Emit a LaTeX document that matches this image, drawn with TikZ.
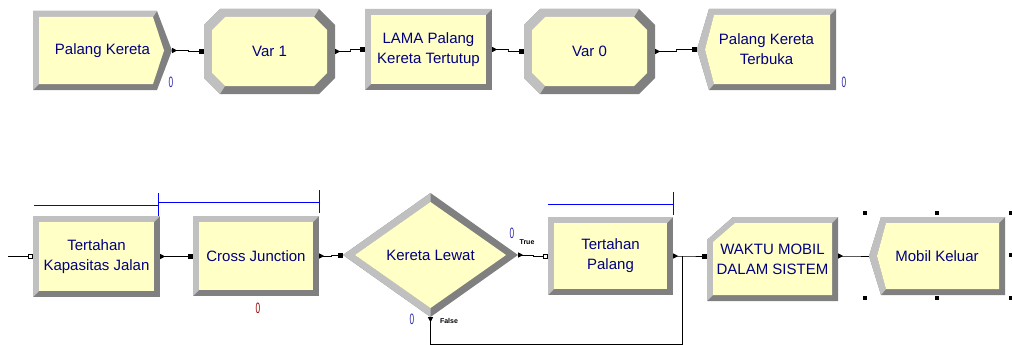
\documentclass[tikz,border=0pt]{standalone}
\usepackage{fontspec}
\setmainfont{Liberation Sans}
\usepackage{tikz}
\usetikzlibrary{arrows.meta,calc,backgrounds}
\definecolor{modfill}{RGB}{255,255,198}
\definecolor{rimlight}{RGB}{192,192,192}
\definecolor{rimdark}{RGB}{128,128,128}
\definecolor{navy}{RGB}{0,0,128}
\definecolor{cntblue}{RGB}{40,40,170}
\definecolor{cntred}{RGB}{160,0,0}
\definecolor{qblue}{RGB}{0,0,255}
\tikzset{font={\fontsize{15pt}{20pt}\selectfont}}
\newcommand{\cnt}[1]{\scalebox{.55}[1]{#1}}

% module outlines round a named node (#1 = node, #2 = width, #3 = height)
\newcommand{\procshape}[3]{\begin{scope}[shift={(#1.center)},x=1pt,y=1pt]
\def\modw{#2/2}\def\modh{#3/2}
\fill[rimdark] (-\modw,-\modh) rectangle (\modw,\modh);
\fill[rimlight] (-\modw,-\modh) -- (-\modw,\modh) -- (\modw,\modh) -- (\modw-6,\modh-6) -- (-\modw+6,\modh-6) -- (-\modw+6,-\modh+6) -- cycle;
\fill[modfill] (-\modw+6,-\modh+6) rectangle (\modw-6,\modh-6);
\end{scope}}
\newcommand{\createshape}[3]{\begin{scope}[shift={(#1.center)},x=1pt,y=1pt]
\def\modw{#2/2}\def\modh{#3/2}
\fill[rimdark] (-\modw,\modh) -- (\modw-15,\modh) -- (\modw,0) -- (\modw-15,-\modh) -- (-\modw,-\modh) -- cycle;
\fill[rimlight] (-\modw,-\modh) -- (-\modw,\modh) -- (\modw-15,\modh) -- (\modw-19,\modh-6) -- (-\modw+6,\modh-6) -- (-\modw+6,-\modh+6) -- cycle;
\fill[modfill] (-\modw+6,\modh-6) -- (\modw-19,\modh-6) -- (\modw-8,0) -- (\modw-19,-\modh+6) -- (-\modw+6,-\modh+6) -- cycle;
\end{scope}}
\newcommand{\disposeshape}[3]{\begin{scope}[shift={(#1.center)},x=1pt,y=1pt]
\def\modw{#2/2}\def\modh{#3/2}
\fill[rimdark] (-\modw,0) -- (-\modw+12,\modh) -- (\modw,\modh) -- (\modw,-\modh) -- (-\modw+12,-\modh) -- cycle;
\fill[rimlight] (-\modw+12,-\modh) -- (-\modw,0) -- (-\modw+12,\modh) -- (\modw,\modh) -- (\modw-6,\modh-6) -- (-\modw+17,\modh-6) -- (-\modw+8,0) -- (-\modw+17,-\modh+6) -- cycle;
\fill[modfill] (-\modw+8,0) -- (-\modw+17,\modh-6) -- (\modw-6,\modh-6) -- (\modw-6,-\modh+6) -- (-\modw+17,-\modh+6) -- cycle;
\end{scope}}
\newcommand{\assignshape}[3]{\begin{scope}[shift={(#1.center)},x=1pt,y=1pt]
\def\modw{#2/2}\def\modh{#3/2}
\fill[rimdark] (-\modw+16,\modh) -- (\modw-16,\modh) -- (\modw,\modh-16) -- (\modw,-\modh+16) -- (\modw-16,-\modh) -- (-\modw+16,-\modh) -- (-\modw,-\modh+16) -- (-\modw,\modh-16) -- cycle;
\fill[rimlight] (-\modw+16,-\modh) -- (-\modw,-\modh+16) -- (-\modw,\modh-16) -- (-\modw+16,\modh) -- (\modw-16,\modh) -- (\modw-21,\modh-8) -- (-\modw+21,\modh-8) -- (-\modw+8,\modh-21) -- (-\modw+8,-\modh+21) -- (-\modw+21,-\modh+8) -- cycle;
\fill[modfill] (-\modw+21,\modh-8) -- (\modw-21,\modh-8) -- (\modw-8,\modh-21) -- (\modw-8,-\modh+21) -- (\modw-21,-\modh+8) -- (-\modw+21,-\modh+8) -- (-\modw+8,-\modh+21) -- (-\modw+8,\modh-21) -- cycle;
\end{scope}}
\newcommand{\recordshape}[3]{\begin{scope}[shift={(#1.center)},x=1pt,y=1pt]
\def\modw{#2/2}\def\modh{#3/2}
\fill[rimdark] (-\modw,\modh-23) -- (-\modw+26,\modh) -- (\modw,\modh) -- (\modw,-\modh) -- (-\modw,-\modh) -- cycle;
\fill[rimlight] (-\modw,-\modh) -- (-\modw,\modh-23) -- (-\modw+26,\modh) -- (\modw,\modh) -- (\modw-6,\modh-6) -- (-\modw+28,\modh-6) -- (-\modw+6,\modh-25) -- (-\modw+6,-\modh+6) -- cycle;
\fill[modfill] (-\modw+6,\modh-25) -- (-\modw+28,\modh-6) -- (\modw-6,\modh-6) -- (\modw-6,-\modh+6) -- (-\modw+6,-\modh+6) -- cycle;
\end{scope}}
\newcommand{\decideshape}[3]{\begin{scope}[shift={(#1.center)},x=1pt,y=1pt]
\def\modw{#2/2}\def\modh{#3/2}
\fill[rimdark] (-\modw,0) -- (0,\modh) -- (\modw,0) -- (0,-\modh) -- cycle;
\fill[rimlight] (0,\modh) -- (-\modw,0) -- (0,-\modh) -- (0,-\modh+9) -- (-\modw+12,0) -- (0,\modh-9) -- cycle;
\fill[modfill] (-\modw+12,0) -- (0,\modh-9) -- (\modw-12,0) -- (0,-\modh+9) -- cycle;
\end{scope}}

\begin{document}
\begin{tikzpicture}[x=1pt,y=-1pt,
module/.style 2 args={inner sep=1pt,text=navy,align=center,minimum width=#1,minimum height=#2},
conn/.style={line width=1pt,to path={-| ($(\tikztostart)!.5!(\tikztotarget)$) |- (\tikztotarget)}},
flow/.style={conn,{Triangle[reversed,length=5pt,width=5pt]}-{Square[length=5pt,width=5pt]}},
flowq/.style={conn,{Triangle[reversed,length=5pt,width=5pt]}-{Square[open,fill=white,length=5pt,width=5pt]}},
count/.style={inner sep=0pt,text=cntblue,font=\fontsize{15pt}{15pt}\selectfont},
branch/.style={inner sep=0pt,font=\fontsize{7pt}{7pt}\selectfont\bfseries},
queue/.style={qblue,line width=1pt}
]
\useasboundingbox (0,0) rectangle (1012,345);

\node[module={139}{79}] (pk) at (102.5,50.5) {Palang Kereta};
\node[module={131}{85}] (var1) at (269.5,51.5) {Var 1};
\node[module={127}{81}] (lama) at (428.5,49.5) {LAMA Palang\\Kereta Tertutup};
\node[module={131}{85}] (var0) at (589.5,51.5) {Var 0};
\node[module={139}{81}] (pkt) at (766.5,49.5) {Palang Kereta\\Terbuka};
\node[count] (pkc) at (171,82) {\cnt{0}};
\node[count] (pktc) at (844,82) {\cnt{0}};

\draw[flow] (pk.east) to (var1.west);
\draw[flow] (var1.east) to (lama.west);
\draw[flow] (lama.east) to (var0.west);
\draw[flow] (var0.east) to (pkt.west);

\node[module={127}{81}] (tkj) at (96.5,256.5) {Tertahan\\Kapasitas Jalan};
\node[module={126}{80}] (cj) at (256,256) {Cross Junction};
\node[module={175}{124}] (kl) at (430.5,255) {Kereta Lewat};
\node[module={125}{78}] (tp) at (610.5,256) {Tertahan\\Palang};
\node[module={131}{84}] (wms) at (772.5,259) {WAKTU MOBIL\\DALAM SISTEM};
\node[module={136}{78}] (mk) at (937,256) {Mobil Keluar};

\begin{scope}[on background layer]
\createshape{pk}{139}{79}
\assignshape{var1}{131}{85}
\procshape{lama}{127}{81}
\assignshape{var0}{131}{85}
\disposeshape{pkt}{139}{81}
\foreach \n/\w/\h in {tkj/127/81,cj/126/80,tp/125/78}
  \procshape{\n}{\w}{\h};
\decideshape{kl}{175}{124}
\recordshape{wms}{131}{84}
\disposeshape{mk}{136}{78}
\end{scope}

\node[count,text=cntred] (cjc) at (258,308) {\cnt{0}};
\node[count] (kltc) at (512,233) {\cnt{0}};
\node[count] (klfc) at (412,319) {\cnt{0}};
\node[branch] (truel) at (527,242) {True};
\node[branch] (falsel) at (449,321) {False};

\draw[queue] (34,205) -- (158,205) ++(0,-12) -- ++(0,23);
\draw[queue] (158,202) -- (319,202) ++(0,-12) -- ++(0,23);
\draw[queue] (548,204) -- (673,204) ++(0,-12) -- ++(0,23);

\coordinate (entry) at (8,256);
\coordinate (merge) at (682,256);
\draw[conn,-{Square[open,fill=white,length=5pt,width=5pt]}] (entry) to (tkj.west);
\draw[flow] (tkj.east) to (cj.west);
\draw[flow] (cj.east) to (kl.west);
\draw[flowq] (kl.east) to (tp.west);
\draw[flow] (tp.east) to ([yshift=3pt]wms.west);
\draw[line width=1pt,{Triangle[reversed,length=5pt,width=5pt]}-] (kl.south) -- ++(0,27) -| (merge);
\draw[conn,{Triangle[reversed,length=5pt,width=5pt]}-] ([yshift=3pt]wms.east) to (mk.west);

\foreach \hx/\hy in {865/213,937/213,1011/213,1011/255,865/298,937/298,1011/298}
  \fill (\hx-2,\hy-2) rectangle (\hx+2,\hy+2);

\end{tikzpicture}
\end{document}
